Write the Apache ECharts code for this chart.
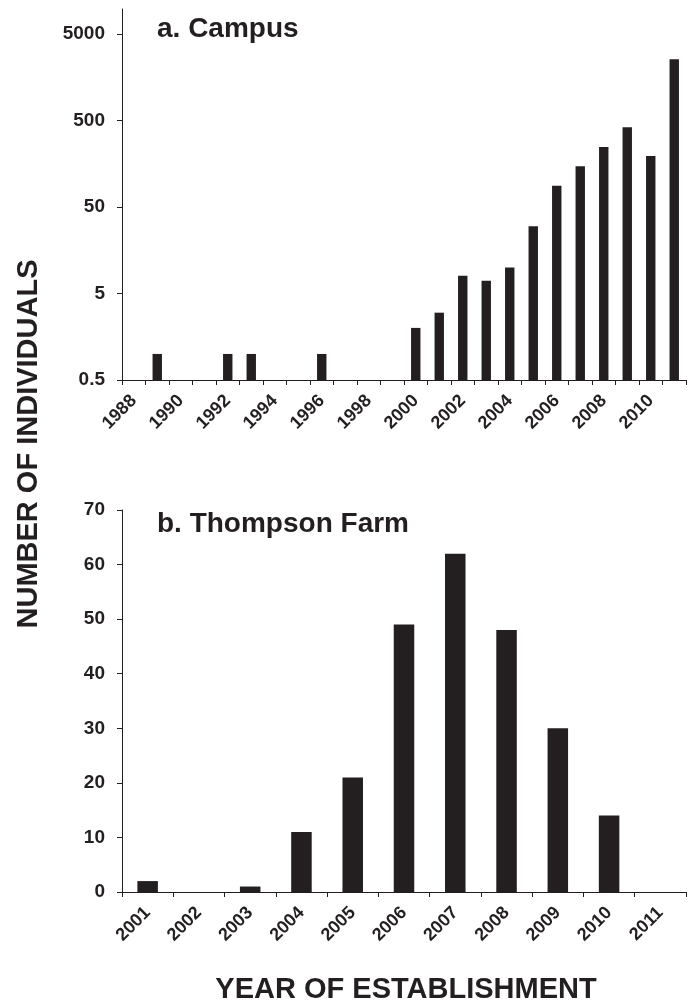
<!DOCTYPE html>
<html>
<head>
<meta charset="utf-8">
<script src="https://cdn.jsdelivr.net/npm/echarts@6/dist/echarts.min.js"></script>
<style>
  html, body { margin: 0; padding: 0; background: #fff; }
  #chart { width: 695px; height: 1006px; }
</style>
</head>
<body>
<div id="chart"></div>
<script>
// a. Campus (log scale)
var campusYears = ['1988','1989','1990','1991','1992','1993','1994','1995','1996','1997','1998','1999',
                   '2000','2001','2002','2003','2004','2005','2006','2007','2008','2009','2010','2011'];
var campusCounts = [null, 1, null, null, 1, 1, null, null, 1, null, null, null,
                    2, 3, 8, 7, 10, 30, 88, 148, 247, 417, 194, 2550];
var campusTicks = [0.5, 5, 50, 500, 5000];

// b. Thompson Farm
var farmYears = ['2001','2002','2003','2004','2005','2006','2007','2008','2009','2010','2011'];
var farmCounts = [2, 0, 1, 11, 21, 49, 62, 48, 30, 14, 0];

var ink = '#231f20';
var font = "'Liberation Sans', Arial, sans-serif";

// log bars in echarts grow from 1, the plot floor is 0.5 -> axis runs in units of 0.5
var FLOOR = 0.5;
var campusScaled = campusCounts.map(function (v) { return v == null ? null : v / FLOOR; });
var campusTicksScaled = campusTicks.map(function (v) { return v / FLOOR; });

var axisLineStyle = { lineStyle: { color: ink, width: 1 } };
var xLabel = { rotate: 45, margin: 18, color: ink, fontSize: 18, fontWeight: 'bold', fontFamily: font };
var yLabel = { color: ink, fontSize: 19, fontWeight: 'bold', fontFamily: font, margin: 17 };

var chart = echarts.init(document.getElementById('chart'));
var option = {
  animation: false,
  backgroundColor: '#fff',
  textStyle: { fontFamily: font, color: ink },
  grid: [
    { left: 122, right: 9, top: 9, bottom: 626 },
    { left: 122, right: 9, top: 510, bottom: 114 }
  ],
  xAxis: [
    {
      gridIndex: 0, type: 'category', data: campusYears, boundaryGap: true,
      axisLine: axisLineStyle,
      axisTick: { show: true, interval: 0, length: 5, lineStyle: { color: ink } },
      axisLabel: Object.assign({ interval: 1 }, xLabel)
    },
    {
      gridIndex: 1, type: 'category', data: farmYears, boundaryGap: true,
      axisLine: axisLineStyle,
      axisTick: { show: true, interval: 0, length: 5, lineStyle: { color: ink } },
      axisLabel: Object.assign({ interval: 0 }, xLabel)
    }
  ],
  yAxis: [
    {
      gridIndex: 0, type: 'log', logBase: 10, min: 1, max: 9700 / FLOOR,
      axisLine: { show: true, lineStyle: { color: ink, width: 1 } },
      axisTick: { show: true, length: 5, lineStyle: { color: ink }, customValues: campusTicksScaled },
      axisLabel: Object.assign({
        customValues: campusTicksScaled,
        formatter: function (v) { return String(Math.round(v * FLOOR * 10) / 10); }
      }, yLabel),
      splitLine: { show: false }
    },
    {
      gridIndex: 1, type: 'value', min: 0, max: 70, interval: 10,
      axisLine: { show: true, lineStyle: { color: ink, width: 1 } },
      axisTick: { show: true, length: 5, lineStyle: { color: ink } },
      axisLabel: yLabel,
      splitLine: { show: false }
    }
  ],
  graphic: [
    { type: 'text', left: 157, top: 15, style: { text: 'a. Campus', font: 'bold 28px ' + font, fill: ink } },
    { type: 'text', left: 157, top: 510, style: { text: 'b. Thompson Farm', font: 'bold 28px ' + font, fill: ink } },
    { type: 'text', x: 29, y: 444, rotation: Math.PI / 2,
      style: { text: 'NUMBER OF INDIVIDUALS', font: 'bold 29px ' + font, fill: ink, align: 'center', verticalAlign: 'middle' } },
    { type: 'text', x: 406, y: 990,
      style: { text: 'YEAR OF ESTABLISHMENT', font: 'bold 29px ' + font, fill: ink, align: 'center', verticalAlign: 'middle' } }
  ],
  series: [
    {
      type: 'bar', xAxisIndex: 0, yAxisIndex: 0, data: campusScaled,
      barWidth: '40%', itemStyle: { color: ink }
    },
    {
      type: 'bar', xAxisIndex: 1, yAxisIndex: 1, data: farmCounts,
      barWidth: '40%', itemStyle: { color: ink }
    }
  ]
};
chart.setOption(option);
</script>
</body>
</html>
